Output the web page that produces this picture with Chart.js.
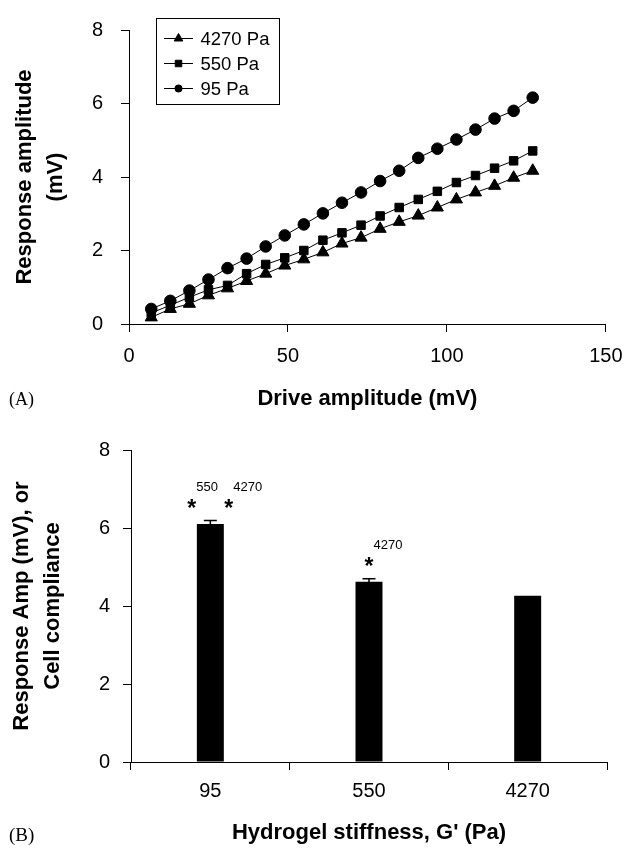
<!DOCTYPE html>
<html><head><meta charset="utf-8">
<script src="https://cdn.jsdelivr.net/npm/chart.js@4.4.1/dist/chart.umd.min.js"></script>
<style>
html,body{margin:0;padding:0;background:#fff;width:635px;height:848px;overflow:hidden;}
#wrap{position:relative;width:635px;height:848px;}
canvas{position:absolute;left:0;}
#c1{top:0;}
#c2{top:425px;}
.panel{position:absolute;font-family:"Liberation Serif","Times New Roman",serif;color:#000;line-height:22px;}
</style></head><body>
<div id="wrap">
<canvas id="c1" width="635" height="415"></canvas>
<canvas id="c2" width="635" height="423"></canvas>
<div class="panel" style="left:9px;top:388px;font-size:18px;">(A)</div>
<div class="panel" style="left:9px;top:824px;font-size:19px;">(B)</div>
</div>
<script>
// ---- Panel A data ----
const driveAmp = [7,13,19,25,31,37,43,49,55,61,67,73,79,85,91,97,103,109,115,121,127];
const resp4270 = [0.18,0.41,0.55,0.78,0.97,1.17,1.37,1.59,1.76,1.95,2.19,2.35,2.59,2.78,2.95,3.17,3.39,3.58,3.76,3.98,4.17];
const resp550  = [0.30,0.51,0.73,0.93,1.05,1.37,1.62,1.80,2.00,2.28,2.48,2.69,2.94,3.17,3.39,3.61,3.85,4.04,4.24,4.44,4.71];
const resp95   = [0.41,0.63,0.91,1.21,1.52,1.78,2.11,2.41,2.71,3.01,3.30,3.58,3.89,4.17,4.52,4.77,5.02,5.29,5.59,5.80,6.16];
const seriesLabels = ['4270 Pa','550 Pa','95 Pa'];
const seriesMarkers = ['triangle','rect','circle'];

// ---- Panel B data ----
const stiffness = ['95','550','4270'];
const meanAmp = [6.10,4.62,4.26];
const semAmp  = [0.09,0.08,0];
const sigMarks = [['550','4270'],['4270'],[]];

const FONT = "'Liberation Sans', Arial, Helvetica, sans-serif";
Chart.defaults.font.family = FONT;
Chart.defaults.color = '#000';

function drawMarker(ctx, style, x, y, r){
  ctx.beginPath();
  if(style==='triangle'){
    ctx.moveTo(x, y - r);
    ctx.lineTo(x + r*Math.sin(2*Math.PI/3), y + r/2);
    ctx.lineTo(x - r*Math.sin(2*Math.PI/3), y + r/2);
    ctx.closePath();
  } else if(style==='rect'){
    const s = r*Math.SQRT1_2;
    ctx.rect(x - s, y - s, 2*s, 2*s);
  } else {
    ctx.arc(x, y, r, 0, Math.PI*2);
  }
  ctx.fill(); ctx.stroke();
}

const boxLegend = {
  id:'boxLegend',
  afterDraw(chart, args, o){
    const ctx = chart.ctx;
    ctx.save();
    ctx.strokeStyle = '#000'; ctx.fillStyle = '#000'; ctx.lineWidth = 1;
    ctx.strokeRect(o.left, o.top, o.width, o.height);
    ctx.font = o.fontSize + 'px ' + FONT;
    ctx.textBaseline = 'middle'; ctx.textAlign = 'left';
    chart.data.datasets.forEach((ds, i) => {
      const y = o.rowStart + i*o.rowGap;
      ctx.beginPath(); ctx.moveTo(o.lineX0, y); ctx.lineTo(o.lineX1, y); ctx.stroke();
      drawMarker(ctx, ds.pointStyle, (o.lineX0 + o.lineX1)/2, y, o.markerRadius[i]);
      ctx.fillText(ds.label, o.textX, y + 1);
    });
    ctx.restore();
  }
};

const axisGrid = {drawOnChartArea:false, drawTicks:true, tickLength:8, color:'#000', lineWidth:1};
const axisBorder = {display:true, color:'#000', width:1};

function lineDs(label, ys, style, r){
  return {
    label, data: driveAmp.map((x,i)=>({x, y: ys[i]})),
    borderColor:'#000', borderWidth:1, backgroundColor:'#000',
    pointStyle: style, pointRadius: r, pointBackgroundColor:'#000', pointBorderColor:'#000',
    pointBorderWidth:1, tension:0, fill:false
  };
}

new Chart(document.getElementById('c1'), {
  type:'line',
  data:{datasets:[
    lineDs(seriesLabels[0], resp4270, seriesMarkers[0], 7),
    lineDs(seriesLabels[1], resp550, seriesMarkers[1], 6),
    lineDs(seriesLabels[2], resp95, seriesMarkers[2], 5.8)
  ]},
  options:{
    responsive:false, animation:false, devicePixelRatio:1,
    layout:{padding:{left:0, right:18, top:19, bottom:0}},
    plugins:{
      legend:{display:false}, tooltip:{enabled:false},
      boxLegend:{left:156.5, top:18.5, width:123, height:86, rowStart:38.5, rowGap:25,
                 lineX0:164, lineX1:193, textX:200.5, fontSize:18.5, markerRadius:[5,4.6,3.6]}
    },
    scales:{
      x:{type:'linear', min:0, max:150,
         ticks:{stepSize:50, padding:12.5, font:{size:20}, color:'#000'},
         grid:axisGrid, border:axisBorder,
         title:{display:true, text:'Drive amplitude (mV)', color:'#000',
                font:{size:22, weight:'bold', lineHeight:1.2}, padding:{top:0, bottom:3}},
         afterFit(s){ s.height = 91; }},
      y:{type:'linear', min:0, max:8,
         ticks:{stepSize:2, padding:18, font:{size:20}, color:'#000'},
         grid:axisGrid, border:axisBorder,
         title:{display:true, text:['Response amplitude','(mV)'], color:'#000',
                font:{size:22, weight:'bold', lineHeight:'31px'}, padding:{top:9.5, bottom:0}},
         afterFit(s){ s.width = 129; }}
    }
  },
  plugins:[boxLegend]
});

const barExtras = {
  id:'barExtras',
  afterDatasetsDraw(chart, args, o){
    const ctx = chart.ctx, ys = chart.scales.y;
    const meta = chart.getDatasetMeta(0);
    ctx.save();
    ctx.strokeStyle = '#000'; ctx.fillStyle = '#000';
    meta.data.forEach((bar, i) => {
      const v = meanAmp[i], e = semAmp[i];
      if(e > 0){
        const yt = ys.getPixelForValue(v + e), yb = ys.getPixelForValue(v - e);
        ctx.lineWidth = 1.5;
        ctx.beginPath();
        ctx.moveTo(bar.x, yb); ctx.lineTo(bar.x, yt);
        ctx.moveTo(bar.x - o.capHalf, yt); ctx.lineTo(bar.x + o.capHalf, yt);
        ctx.moveTo(bar.x - o.capHalf, yb); ctx.lineTo(bar.x + o.capHalf, yb);
        ctx.stroke();
      }
      const marks = sigMarks[i], n = marks.length;
      const yStar = ys.getPixelForValue(v + e) - o.starGap;
      marks.forEach((lab, k) => {
        const xs = bar.x + (k - (n-1)/2) * o.starSpread;
        ctx.font = 'bold ' + o.starSize + 'px ' + FONT;
        ctx.textAlign = 'center'; ctx.textBaseline = 'alphabetic';
        let m = ctx.measureText('*');
        ctx.fillText('*', xs, yStar + (m.actualBoundingBoxAscent - m.actualBoundingBoxDescent)/2);
        ctx.font = o.supSize + 'px ' + FONT;
        ctx.textAlign = 'left';
        m = ctx.measureText(lab);
        const yl = yStar - o.supGap;
        ctx.fillText(lab, xs + o.supDx, yl + (m.actualBoundingBoxAscent - m.actualBoundingBoxDescent)/2);
      });
    });
    ctx.restore();
  }
};

new Chart(document.getElementById('c2'), {
  type:'bar',
  data:{labels:stiffness, datasets:[{
    label:'Response amplitude', data:meanAmp, backgroundColor:'#000', borderWidth:0,
    barPercentage:1, categoryPercentage:0.17
  }]},
  options:{
    responsive:false, animation:false, devicePixelRatio:1,
    layout:{padding:{left:0, right:28, top:20, bottom:0}},
    plugins:{
      legend:{display:false}, tooltip:{enabled:false},
      barExtras:{capHalf:6.5, starGap:17.5, starSpread:37, starSize:23, supSize:13, supGap:17, supDx:4.5}
    },
    scales:{
      x:{type:'category',
         ticks:{padding:9.5, font:{size:20}, color:'#000'},
         grid:Object.assign({offset:true}, axisGrid), border:axisBorder,
         title:{display:true, text:"Hydrogel stiffness, G' (Pa)", color:'#000',
                font:{size:22, weight:'bold', lineHeight:1.2}, padding:{top:0, bottom:2}},
         afterFit(s){ s.height = 86; }},
      y:{type:'linear', min:0, max:8,
         ticks:{stepSize:2, padding:13, font:{size:20}, color:'#000'},
         grid:axisGrid, border:axisBorder,
         title:{display:true, text:['Response Amp (mV), or','Cell compliance'], color:'#000',
                font:{size:22, weight:'bold', lineHeight:'31px'}, padding:{top:6, bottom:0}},
         afterFit(s){ s.width = 131; }}
    }
  },
  plugins:[barExtras]
});
</script>
</body></html>
